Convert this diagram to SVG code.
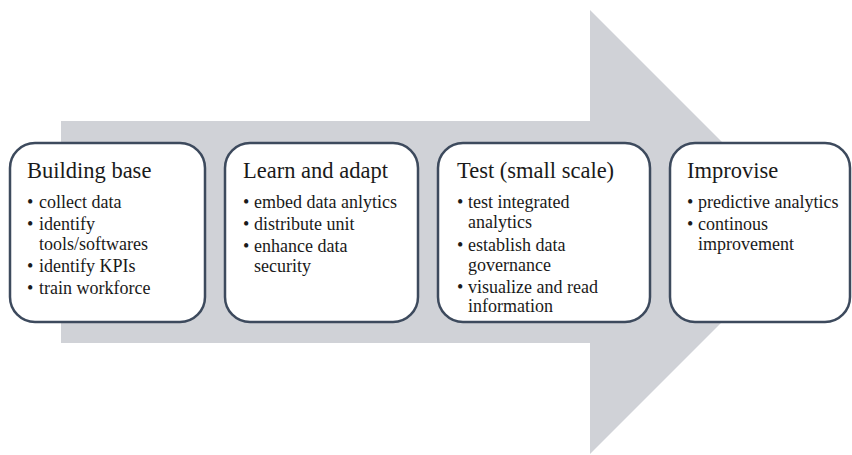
<svg xmlns="http://www.w3.org/2000/svg" width="852" height="455" viewBox="0 0 852 455">
<style>
.box{fill:#ffffff;stroke:#3d4a5d;stroke-width:2.5}
.h{font-size:22.5px}
.b{font-size:18px}
</style>
<rect width="852" height="455" fill="#ffffff"/>
<g id="arrow">
<polygon points="61,121 590,121 590,10 812,232 590,454 590,343 61,343" fill="#d0d2d7"/>
</g>
<g id="nodes" font-family="'Liberation Serif', 'Times New Roman', Tinos, 'Noto Serif', 'DejaVu Serif', serif" fill="#1a1a1a">
<g id="node1">
<rect class="box" x="10" y="143" width="195" height="179" rx="25"/>
<text class="h" x="27" y="178">Building base</text>
<text class="b" x="27" y="208">•</text><text class="b" x="39" y="208">collect data</text>
<text class="b" x="27" y="230">•</text><text class="b" x="39" y="230">identify</text>
<text class="b" x="39" y="250">tools/softwares</text>
<text class="b" x="27" y="272">•</text><text class="b" x="39" y="272">identify KPIs</text>
<text class="b" x="27" y="294">•</text><text class="b" x="39" y="294">train workforce</text>
</g>
<g id="node2">
<rect class="box" x="225" y="143" width="193" height="179" rx="25"/>
<text class="h" x="243" y="178">Learn and adapt</text>
<text class="b" x="243" y="208">•</text><text class="b" x="254" y="208">embed data anlytics</text>
<text class="b" x="243" y="230">•</text><text class="b" x="254" y="230">distribute unit</text>
<text class="b" x="243" y="252">•</text><text class="b" x="254" y="252">enhance data</text>
<text class="b" x="254" y="272">security</text>
</g>
<g id="node3">
<rect class="box" x="438" y="143" width="212" height="179" rx="25"/>
<text class="h" x="457" y="178">Test (small scale)</text>
<text class="b" x="457" y="208">•</text><text class="b" x="468" y="208">test integrated</text>
<text class="b" x="468" y="228">analytics</text>
<text class="b" x="457" y="251">•</text><text class="b" x="468" y="251">establish data</text>
<text class="b" x="468" y="271">governance</text>
<text class="b" x="457" y="293">•</text><text class="b" x="468" y="293">visualize and read</text>
<text class="b" x="468" y="312">information</text>
</g>
<g id="node4">
<rect class="box" x="670" y="143" width="180" height="179" rx="25"/>
<text class="h" x="687" y="178">Improvise</text>
<text class="b" x="687" y="208">•</text><text class="b" x="698" y="208">predictive analytics</text>
<text class="b" x="687" y="230">•</text><text class="b" x="698" y="230">continous</text>
<text class="b" x="698" y="250">improvement</text>
</g>
</g>
<g id="connectors"></g>
</svg>
